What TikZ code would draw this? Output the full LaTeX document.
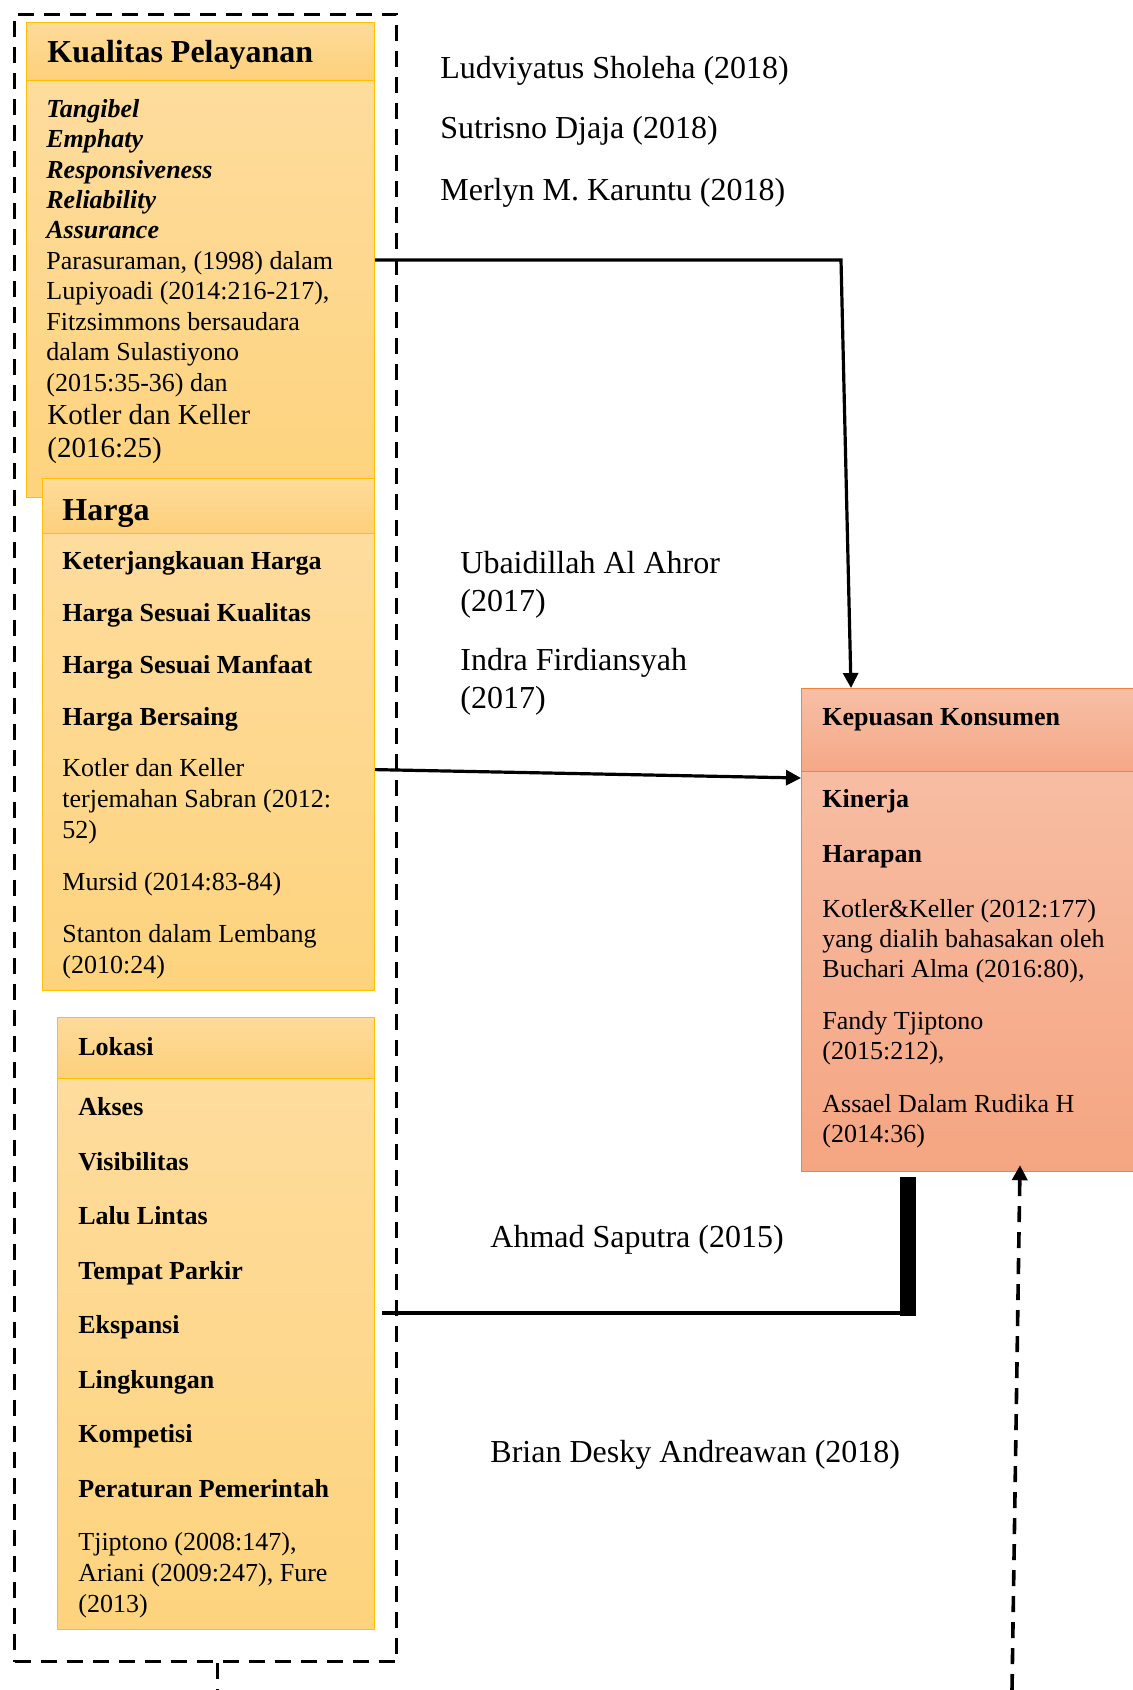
\documentclass[tikz,border=0pt]{standalone}
\usepackage{fontspec}
\setmainfont{Liberation Serif}
\usetikzlibrary{arrows.meta,shadings}

\definecolor{goldline}{HTML}{FFC000}
\definecolor{goldA}{HTML}{FEDB9A}
\definecolor{goldB}{HTML}{FDD07B}
\definecolor{goldC}{HTML}{FEDC9D}
\definecolor{goldD}{HTML}{FDD37D}
\definecolor{orgline}{HTML}{F0843A}
\definecolor{orgA}{HTML}{F7BFA6}
\definecolor{orgB}{HTML}{F5A886}
\definecolor{orgC}{HTML}{F7BDA3}
\definecolor{orgD}{HTML}{F5A581}

\tikzset{
  goldhead/.style={draw=goldline, line width=0.6pt, anchor=north west, inner sep=0pt, top color=goldA, bottom color=goldB},
  goldbody/.style={goldhead, top color=goldC, bottom color=goldD},
  orghead/.style={draw=orgline, line width=0.6pt, anchor=north west, inner sep=0pt, top color=orgA, bottom color=orgB},
  orgbody/.style={orghead, top color=orgC, bottom color=orgD},
  title/.style={anchor=base west, inner sep=0pt, font=\bfseries\fontsize{16}{19}\selectfont},
  % multi-line texts are placed at the baseline of their last line
  txt/.style={anchor=base west, inner sep=0pt, align=left},
  lbl/.style={anchor=base west, inner sep=0pt, align=left, font=\fontsize{16}{18.75}\selectfont},
  conn/.style={line width=1.6pt},
  dashline/.style={line width=1.5pt, dash pattern=on 8pt off 5pt},
  dashbox/.style={dashline, draw, anchor=north west, inner sep=0pt}
}

\begin{document}
\begin{tikzpicture}[x=0.5pt,y=-0.5pt]
\useasboundingbox (0,0) rectangle (1133,1690);

% dashed frame round the three variables
\node[dashbox, minimum width=191pt, minimum height=823.5pt] (frame) at (13,13) {};
\draw[dashline] ([xshift=6pt]frame.south) -- ++(0,30);

% Kualitas Pelayanan
\node[goldhead, minimum width=174pt, minimum height=29pt] (kualHead) at (26,22) {};
\node[goldbody, minimum width=174pt, minimum height=208.5pt] (kualBody) at (26,80) {};
\node[title] (kualTitle) at (47,63) {Kualitas Pelayanan};
\node[txt, font=\fontsize{13}{15.2}\selectfont] (kualText) at (46,391) {\textbf{\textit{Tangibel}}\\
  \textbf{\textit{Emphaty}}\\
  \textbf{\textit{Responsiveness}}\\
  \textbf{\textit{Reliability}}\\
  \textbf{\textit{Assurance}}\\
  Parasuraman, (1998) dalam\\
  Lupiyoadi (2014:216-217),\\
  Fitzsimmons bersaudara\\
  dalam Sulastiyono\\
  (2015:35-36) dan};
\node[txt, font=\fontsize{14.5}{16.5}\selectfont] (kualRef) at (47,457) {Kotler dan Keller\\(2016:25)};

% Harga
\node[goldhead, minimum width=166pt, minimum height=27.5pt] (hargaHead) at (42,478) {};
\node[goldbody, minimum width=166pt, minimum height=228.5pt] (hargaBody) at (42,533) {};
\node[title] (hargaTitle) at (62,520) {Harga};
\node[txt, font=\fontsize{13}{15.5}\selectfont] (hargaText) at (62,973) {\textbf{Keterjangkauan Harga}\\[10.5pt]
  \textbf{Harga Sesuai Kualitas}\\[10.5pt]
  \textbf{Harga Sesuai Manfaat}\\[10.5pt]
  \textbf{Harga Bersaing}\\[10pt]
  Kotler dan Keller\\
  terjemahan Sabran (2012:\\
  52)\\[10.5pt]
  Mursid (2014:83-84)\\[10.5pt]
  Stanton dalam Lembang\\
  (2010:24)};

% Lokasi
\node[goldhead, minimum width=158.5pt, minimum height=30.5pt] (lokHead) at (57,1017) {};
\node[goldbody, minimum width=158.5pt, minimum height=275.5pt] (lokBody) at (57,1078) {};
\node[txt, font=\bfseries\fontsize{13}{15.5}\selectfont] (lokTitle) at (78,1055) {Lokasi};
\node[txt, font=\fontsize{13}{15.5}\selectfont] (lokText) at (78,1612) {\textbf{Akses}\\[11.75pt]
  \textbf{Visibilitas}\\[11.75pt]
  \textbf{Lalu Lintas}\\[11.75pt]
  \textbf{Tempat Parkir}\\[11.75pt]
  \textbf{Ekspansi}\\[11.75pt]
  \textbf{Lingkungan}\\[11.75pt]
  \textbf{Kompetisi}\\[11.75pt]
  \textbf{Peraturan Pemerintah}\\[11pt]
  Tjiptono (2008:147),\\
  Ariani (2009:247), Fure\\
  (2013)};

% Kepuasan Konsumen
\node[orghead, minimum width=166.5pt, minimum height=41.5pt] (kepHead) at (801,688) {};
\node[orgbody, minimum width=166.5pt, minimum height=200pt] (kepBody) at (801,771) {};
\node[txt, font=\bfseries\fontsize{13}{15}\selectfont] (kepTitle) at (822,725) {Kepuasan Konsumen};
\node[txt, font=\fontsize{13}{15}\selectfont] (kepText) at (822,1142) {\textbf{Kinerja}\\[12.5pt]
  \textbf{Harapan}\\[12.5pt]
  Kotler\&Keller (2012:177)\\
  yang dialih bahasakan oleh\\
  Buchari Alma (2016:80),\\[11pt]
  Fandy Tjiptono\\
  (2015:212),\\[11.5pt]
  Assael Dalam Rudika H\\
  (2014:36)};

% researchers
\node[lbl] (ludv) at (440,79) {Ludviyatus Sholeha (2018)};
\node[lbl] (sutr) at (440,139) {Sutrisno Djaja (2018)};
\node[lbl] (merl) at (440,201) {Merlyn M. Karuntu (2018)};
\node[lbl] (ubai) at (460,611) {Ubaidillah Al Ahror\\(2017)};
\node[lbl] (indr) at (460,708) {Indra Firdiansyah\\(2017)};
\node[lbl] (ahmd) at (490,1247) {Ahmad Saputra (2015)};
\node[lbl] (bria) at (490,1462) {Brian Desky Andreawan (2018)};

% links
\coordinate (bendA) at (841,260);
\draw[conn, -{Triangle[width=7.5pt,length=7.5pt]}] (kualBody.east |- bendA) -- (bendA) -- ([xshift=25pt]kepHead.north west);
\draw[conn, -{Triangle[width=7.5pt,length=7.5pt]}] ([yshift=-3.75pt]hargaBody.east) -- ([yshift=-3.5pt]kepBody.north west);

\coordinate (barFoot) at (908,1313);
\draw[conn] ([xshift=3.5pt]lokBody.east |- barFoot) -- ([xshift=4pt]barFoot);
\draw[line width=8pt] ([yshift=-1.5pt]barFoot) -- ([yshift=-2.5pt]barFoot |- kepBody.south);

\coordinate (dashFoot) at (1012,1690);
\draw[dashline, line width=1.8pt, -{Triangle[width=7.5pt,length=7.5pt]}] (dashFoot) -- ([xshift=109.5pt,yshift=3.5pt]kepBody.south west);
\end{tikzpicture}
\end{document}
